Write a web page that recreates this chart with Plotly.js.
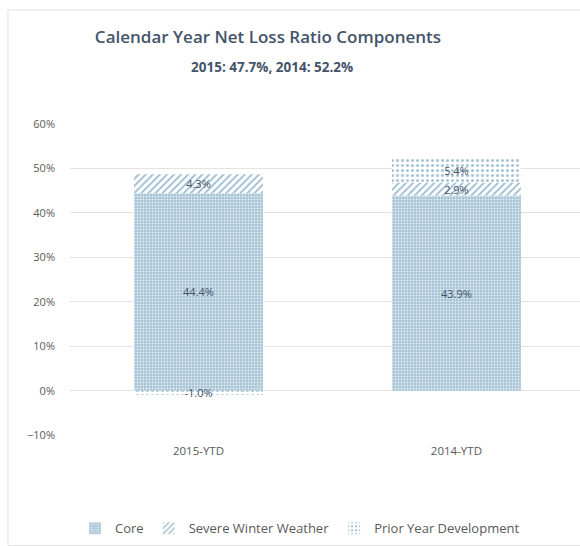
<!DOCTYPE html>
<html>
<head>
<meta charset="utf-8">
<script src="https://cdn.plot.ly/plotly-3.0.1.min.js"></script>
<style>html,body{margin:0;padding:0;background:#fff;}#chart{width:580px;height:546px;}</style>
</head>
<body>
<div id="chart"></div>
<script>
var categories = ["2015-YTD", "2014-YTD"];
var coreValues = [44.4, 43.9];
var winterValues = [4.3, 2.9];
var priorValues = [-1.0, 5.4];
var seriesNames = ["Core", "Severe Winter Weather", "Prior Year Development"];
var titleText = "Calendar Year Net Loss Ratio Components";
var subtitleText = "2015: 47.7%, 2014: 52.2%";

var labelFont = {family: "Open Sans, sans-serif", size: 11, color: "#44546a"};

function mk(name, vals, pattern) {
  return {
    type: "bar", name: name, x: categories, y: vals,
    text: vals.map(function(v){ return v.toFixed(1) + "%"; }),
    textposition: "inside", insidetextanchor: "middle", constraintext: "none",
    textfont: labelFont, cliponaxis: false,
    hoverinfo: "skip",
    marker: {color: pattern.bgcolor, line: {width: 0}, pattern: pattern}
  };
}

var traces = [
  mk(seriesNames[0], coreValues, {shape: ".", bgcolor: "#a6c4d5", fgcolor: "#e6eff5", size: 3, solidity: 0.35, fillmode: "replace"}),
  mk(seriesNames[1], winterValues, {shape: "/", bgcolor: "#ffffff", fgcolor: "#9dbdd0", size: 5, solidity: 0.35, fillmode: "replace"}),
  mk(seriesNames[2], priorValues, {shape: ".", bgcolor: "#ffffff", fgcolor: "#a9c6d6", size: 5, solidity: 0.3, fillmode: "replace"})
];

var layout = {
  width: 580, height: 546,
  margin: {l: 70, r: 0, t: 123, b: 110},
  paper_bgcolor: "#ffffff", plot_bgcolor: "#ffffff",
  barmode: "relative", bargap: 0.5,
  showlegend: true,
  title: {text: titleText, x: 0.462, xref: "container", xanchor: "center", y: 0.932, yref: "container", yanchor: "middle",
          font: {family: "Open Sans, sans-serif", size: 17, weight: 600, color: "#44546a"}},
  annotations: [{text: "<b>" + subtitleText + "</b>", xref: "paper", yref: "paper", x: 0.396, y: 1.179,
                 xanchor: "center", yanchor: "middle", showarrow: false,
                 font: {family: "Open Sans, sans-serif", size: 13.5, color: "#44546a"}}],
  xaxis: {range: [-0.498, 1.479], showgrid: false, zeroline: false, showline: false, ticks: "",
          ticklabelstandoff: 6,
          tickfont: {family: "Open Sans, sans-serif", size: 11.5, color: "#595959"}, fixedrange: true},
  yaxis: {range: [-10.2, 60.2], dtick: 10, tick0: 0, ticksuffix: "%", showgrid: true, gridcolor: "#e3e3e3",
          zeroline: true, zerolinecolor: "#e3e3e3", zerolinewidth: 1, showline: false, ticks: "",
          ticklabelstandoff: 14,
          tickfont: {family: "Open Sans, sans-serif", size: 11, color: "#595959"}, fixedrange: true},
  legend: {orientation: "h", x: 0.451, xanchor: "center", y: -0.295, yanchor: "middle",
           font: {family: "Open Sans, sans-serif", size: 13, color: "#595959"}, traceorder: "normal"},
  shapes: [{type: "rect", xref: "paper", yref: "paper", x0: -0.1216, x1: 1.05, y0: -0.35, y1: 1.361,
            line: {color: "#e0e0e0", width: 1}, fillcolor: "rgba(0,0,0,0)", layer: "below"}]
};

Plotly.newPlot("chart", traces, layout, {displayModeBar: false, staticPlot: true});
</script>
</body>
</html>
